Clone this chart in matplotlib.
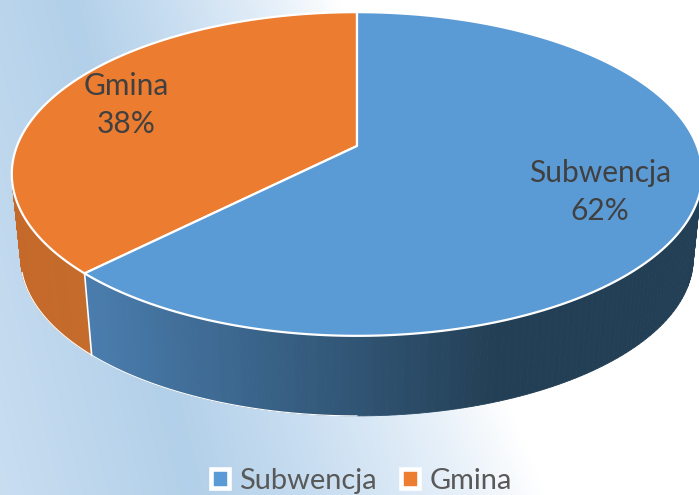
import numpy as np
import matplotlib.pyplot as plt
from matplotlib.patches import Polygon, Rectangle
from matplotlib.colors import LinearSegmentedColormap, to_rgb

plt.rcParams['font.family'] = ['Lato', 'DejaVu Sans']

categories = ['Gmina', 'Subwencja']
shares = [37.6, 62.4]
colors = ['#EB7C30', '#5B9BD5']

legend_names = ['Subwencja', 'Gmina']
legend_colors = ['#5B9BD5', '#ED7D31']

text_color = '#404040'
legend_text_color = '#595959'

# perspective of the tilted disc, in pixels
cx, cy = 357, 146
k = 0.173
sx, sy = 340, 157
low_cy = 231
low_scale = 0.974


def project(theta):
    # theta counted counter-clockwise from the top
    u = -np.sin(theta)
    v = np.cos(theta)
    w = 1 + k * v
    return sx * u / w, sy * v / w


def top_pts(theta):
    x, y = project(theta)
    return cx + x, cy - y


def low_pts(theta):
    x, y = project(theta)
    return cx + low_scale * x, low_cy - low_scale * y


fig = plt.figure(figsize=(6.99, 4.95), dpi=100)
ax = fig.add_axes([0, 0, 1, 1])
ax.set_xlim(0, 699)
ax.set_ylim(495, 0)
ax.axis('off')

# background, blue band running down from the top left, white to the right
bg = LinearSegmentedColormap.from_list('bg', [
    (0.00, '#d2e3f4'), (0.40, '#b2d0e9'), (0.62, '#c9def1'), (0.85, '#e6f0f9'), (1.00, '#ffffff')])
xx, yy = np.meshgrid(np.arange(699), np.arange(495))
band = 70 + 0.25 * yy
white = 340 + 0.42 * yy
t = np.where(xx >= band, 0.4 + 0.6 * (xx - band) / (white - band), 0.4 + 0.4 * (xx - band) / 270)
ax.imshow(np.clip(t, 0, 1), cmap=bg, vmin=0, vmax=1, extent=(0, 699, 495, 0),
          aspect='auto', zorder=0)

angles = np.cumsum([0] + shares) / sum(shares) * 2 * np.pi

# sides, only the front of the rim shows; shade runs left to right
side_shade = {'Gmina': ('#c4692a', '#c66c2b', 20, 91), 'Subwencja': ('#4a7dae', '#233f55', 91, 490)}
front_lo = np.deg2rad(100)
front_hi = np.deg2rad(268)
for i, name in enumerate(categories):
    a0 = max(angles[i], front_lo)
    a1 = min(angles[i + 1], front_hi)
    if a1 <= a0:
        continue
    steps = np.linspace(a0, a1, 120)
    c0 = np.array(to_rgb(side_shade[name][0]))
    c1 = np.array(to_rgb(side_shade[name][1]))
    x_lo, x_hi = side_shade[name][2:]
    for j in range(len(steps) - 1):
        x0, y0 = top_pts(steps[j])
        x1, y1 = top_pts(steps[j + 1])
        x2, y2 = low_pts(steps[j + 1])
        x3, y3 = low_pts(steps[j])
        f = np.clip((x3 - x_lo) / (x_hi - x_lo), 0, 1)
        col = c0 + (c1 - c0) * f
        ax.add_patch(Polygon([(x0, y0), (x1, y1), (x2, y2), (x3, y3)], closed=True,
                             facecolor=col, edgecolor=col, lw=0.6, zorder=2))

# white seam between the side faces and thin rim along the lower left
x0, y0 = top_pts(angles[1])
x1, y1 = low_pts(angles[1])
ax.plot([x0, x1], [y0, y1], color='white', lw=1.2, zorder=3)
x2, y2 = low_pts(np.linspace(np.deg2rad(105), np.pi, 80))
ax.plot(x2, y2, color='white', lw=0.8, zorder=3)

# top faces
for i, name in enumerate(categories):
    th = np.linspace(angles[i], angles[i + 1], 200)
    x, y = top_pts(th)
    pts = np.vstack([[cx, cy], np.column_stack([x, y])])
    ax.add_patch(Polygon(pts, closed=True, facecolor=colors[i], edgecolor='white',
                         lw=1.6, joinstyle='round', zorder=4))

# data labels
ax.text(126, 105, 'Gmina\n%.0f%%' % shares[0], ha='center', va='center', fontsize=21.5,
        color=text_color, linespacing=1.42, zorder=5)
ax.text(600, 192, 'Subwencja\n%.0f%%' % shares[1], ha='center', va='center', fontsize=21.5,
        color=text_color, linespacing=1.42, zorder=5)

# legend
handles = [Rectangle((0, 0), 1, 1, facecolor=c, edgecolor='white', lw=3.3) for c in legend_colors]
leg = ax.legend(handles, legend_names, loc='lower center', bbox_to_anchor=(0.517, -0.05), ncol=2,
                frameon=False, fontsize=20.9, handlelength=0.62, handleheight=0.62,
                handletextpad=0.36, columnspacing=0.85, labelcolor=legend_text_color)
leg.set_zorder(6)

fig.savefig('out.png', dpi=100)
